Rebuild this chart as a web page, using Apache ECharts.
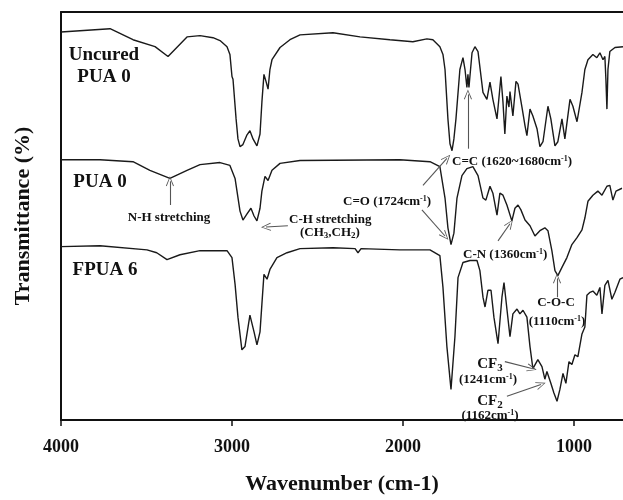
<!DOCTYPE html>
<html>
<head>
<meta charset="utf-8">
<script src="https://cdn.jsdelivr.net/npm/echarts@6/dist/echarts.min.js"></script>
<style>
html,body{margin:0;padding:0;background:#fff;}
#main{width:623px;height:500px;}
</style>
</head>
<body>
<div id="main"></div>
<script>
// wavenumber (cm-1) / transmittance (arb. %, curves offset)
var uncuredWn = [4000,3713,3579,3450,3374,3263,3187,3111,3070,3029,3012,3000,2994,2976,2965,2953,2936,2912,2895,2877,2854,2836,2825,2813,2801,2789,2778,2766,2719,2661,2602,2409,2251,2076,1942,1860,1825,1784,1766,1754,1737,1725,1713,1702,1690,1667,1649,1637,1626,1620,1614,1596,1579,1561,1532,1509,1491,1474,1450,1427,1415,1404,1392,1380,1374,1357,1339,1327,1304,1286,1275,1257,1240,1216,1199,1181,1152,1135,1111,1094,1070,1053,1023,1006,982,953,936,918,889,866,848,830,819,813,807,801,790,760,713];
var uncuredT = [95.1,95.9,93.2,91.5,89.1,93.9,94.2,93.7,93.0,91.5,89.6,84.2,83.5,73.8,68.9,67.0,67.5,69.9,70.9,68.9,67.2,70.1,77.9,84.7,83.0,81.1,85.9,88.3,91.3,93.2,94.4,94.9,93.9,93.2,92.7,93.4,93.2,91.5,89.6,85.9,73.8,67.7,66.0,68.9,73.8,85.9,88.8,85.9,81.5,84.7,81.5,90.0,91.5,90.3,80.3,78.6,82.8,78.6,73.8,84.2,77.9,70.1,79.4,76.7,80.5,74.5,83.0,82.3,76.7,72.1,69.7,76.2,74.5,71.4,67.0,68.2,76.9,73.8,67.2,68.2,73.8,68.9,78.6,76.9,73.1,80.3,85.9,88.3,89.6,88.8,90.0,88.3,89.1,83.5,76.2,85.9,90.3,91.3,91.5];

var pua0Wn = [4000,3772,3579,3480,3363,3263,3187,3070,3012,2982,2953,2936,2912,2889,2871,2854,2836,2825,2807,2789,2766,2719,2602,2018,1842,1784,1754,1737,1719,1702,1684,1655,1626,1591,1561,1532,1515,1491,1474,1450,1433,1415,1392,1363,1345,1327,1310,1286,1257,1228,1199,1170,1152,1129,1111,1094,1070,1041,1012,982,953,936,918,889,860,836,807,790,772,754,719];
var pua0T = [63.8,63.8,63.3,61.2,59.2,61.2,62.6,63.1,62.4,59.2,51.2,49.0,50.5,51.9,50.0,48.8,51.9,56.1,59.7,58.7,61.2,62.9,63.6,63.8,63.3,62.1,54.4,47.1,43.0,45.8,54.4,59.9,61.6,62.1,59.9,54.4,53.9,57.3,55.6,50.2,55.6,55.1,52.7,48.8,51.9,52.7,51.5,49.0,47.6,45.1,46.4,47.1,46.4,41.5,36.6,35.4,37.4,39.8,43.0,44.7,46.6,49.5,53.6,55.1,56.1,55.1,57.3,57.5,53.9,56.1,56.8];

var fpuaWn = [4000,3772,3497,3440,3380,3304,3187,3029,3000,2982,2965,2942,2924,2895,2871,2854,2836,2825,2813,2795,2778,2737,2678,2602,2409,2280,2263,2245,2018,1842,1784,1766,1743,1719,1696,1678,1649,1608,1567,1550,1532,1520,1503,1485,1468,1444,1421,1409,1392,1374,1357,1333,1316,1298,1275,1257,1240,1211,1187,1170,1158,1135,1117,1099,1082,1064,1047,1029,1012,994,977,953,936,924,906,889,866,848,836,819,801,778,760,731,713];
var fpuaT = [42.5,42.7,41.7,41.0,39.3,40.5,41.5,41.5,39.8,33.3,25.2,17.2,18.0,25.7,21.6,18.4,21.6,28.4,35.7,34.5,36.9,39.8,41.0,42.0,42.2,42.0,41.0,42.0,41.7,41.7,40.3,32.5,18.0,7.5,20.4,34.9,38.6,39.1,39.1,36.6,30.1,27.7,31.8,31.8,25.2,18.7,30.1,33.7,27.2,20.4,26.0,27.2,26.0,26.9,25.2,18.0,12.6,14.8,13.1,10.0,11.9,9.0,6.6,4.6,7.5,11.4,9.0,14.3,13.6,16.0,15.5,21.1,22.8,30.6,31.3,31.6,30.6,32.5,26.0,33.0,34.2,29.6,31.3,34.5,34.9];

var xTicks = [4000, 3000, 2000, 1000];

// annotation arrows [fromWn, fromT, toWn, toT]
var arrows = [
	[3363, 52.7, 3363, 58.5],   // N-H
	[2673, 47.6, 2801, 47.3],   // C-H
	[1883, 57.5, 1743, 64.1],   // C=O -> uncured
	[1889, 51.5, 1754, 45.1],   // C=O -> PUA 0
	[1620, 66.5, 1620, 79.8],   // C=C
	[1444, 43.9, 1374, 48.1],   // C-N
	[1099, 30.1, 1099, 34.7],   // C-O-C
	[1404, 14.3, 1246, 12.6],   // CF3
	[1392, 5.8, 1193, 8.7]      // CF2
];

function zip(a, b) {
	var out = [];
	for (var i = 0; i < a.length; i++) out.push([a[i], b[i]]);
	return out;
}

var serif = 'Liberation Serif';
var lineColor = '#1a1a1a';
// open "V" arrow head, tip at top
var openArrow = 'path://M5,0 L10,12 L9,12.6 L5,2.2 L1,12.6 L0,12 Z';

var rich = {
	n: {fontFamily: serif, fontWeight: 'bold', fontSize: 13, lineHeight: 15, color: '#111'},
	big: {fontFamily: serif, fontWeight: 'bold', fontSize: 15, lineHeight: 18, color: '#111'},
	sup: {fontFamily: serif, fontWeight: 'bold', fontSize: 8, lineHeight: 15, verticalAlign: 'top', color: '#111'},
	sub: {fontFamily: serif, fontWeight: 'bold', fontSize: 9, lineHeight: 15, verticalAlign: 'bottom', color: '#111'},
	bigsub: {fontFamily: serif, fontWeight: 'bold', fontSize: 11, lineHeight: 20, verticalAlign: 'bottom', color: '#111'}
};

function label(text, x, y, align, size) {
	var st = {
		text: text, align: align || 'left', verticalAlign: 'middle',
		fontFamily: serif, fontWeight: 'bold', fontSize: size || 13, fill: '#111'
	};
	if (text.indexOf('{') >= 0) st.rich = rich;
	return {type: 'text', x: x, y: y, silent: true, style: st};
}

var chart = echarts.init(document.getElementById('main'));

var markArrows = arrows.map(function (a) {
	return [{coord: [a[0], a[1]]}, {coord: [a[2], a[3]]}];
});

chart.setOption({
	animation: false,
	backgroundColor: '#fff',
	grid: {left: 61, top: 12, right: 0, bottom: 76},
	xAxis: [{
		type: 'value', min: 713, max: 4000, inverse: true,
		name: 'Wavenumber (cm-1)', nameLocation: 'middle', nameGap: 53,
		nameTextStyle: {fontFamily: serif, fontWeight: 'bold', fontSize: 22, color: '#111'},
		axisLine: {show: true, lineStyle: {color: '#111', width: 2}},
		axisTick: {show: true, length: 6, inside: false, customValues: xTicks, lineStyle: {color: '#111', width: 1.5}},
		axisLabel: {
			customValues: xTicks, margin: 18, fontFamily: serif, fontWeight: 'bold', fontSize: 18, color: '#111',
			formatter: function (v) { return String(v); }
		},
		splitLine: {show: false}
	}, {
		type: 'value', min: 713, max: 4000, inverse: true, position: 'top',
		axisLine: {show: true, lineStyle: {color: '#111', width: 2}},
		axisTick: {show: false}, axisLabel: {show: false}, splitLine: {show: false}
	}],
	yAxis: {
		type: 'value', min: 0, max: 100,
		name: 'Transmittance (%)', nameLocation: 'middle', nameGap: 27, nameRotate: 90,
		nameTextStyle: {fontFamily: serif, fontWeight: 'bold', fontSize: 22, color: '#111'},
		axisLine: {show: true, lineStyle: {color: '#111', width: 2}},
		axisTick: {show: false}, axisLabel: {show: false}, splitLine: {show: false}
	},
	series: [{
		name: 'Uncured PUA 0', type: 'line', showSymbol: false, symbol: 'none',
		data: zip(uncuredWn, uncuredT),
		lineStyle: {color: lineColor, width: 1.4},
		markLine: {
			silent: true, symbol: ['none', openArrow], symbolSize: [8, 10],
			label: {show: false},
			itemStyle: {color: '#555'},
			lineStyle: {color: '#555', width: 1.1, type: 'solid'},
			data: markArrows
		}
	}, {
		name: 'PUA 0', type: 'line', showSymbol: false, symbol: 'none',
		data: zip(pua0Wn, pua0T),
		lineStyle: {color: lineColor, width: 1.4}
	}, {
		name: 'FPUA 6', type: 'line', showSymbol: false, symbol: 'none',
		data: zip(fpuaWn, fpuaT),
		lineStyle: {color: lineColor, width: 1.4}
	}],
	graphic: [
		label('Uncured', 104, 55, 'center', 19),
		label('PUA 0', 104, 77, 'center', 19),
		label('PUA 0', 100, 182, 'center', 19),
		label('FPUA 6', 105, 270, 'center', 19),
		label('N-H stretching', 169, 218, 'center'),
		label('C-H stretching', 289, 220),
		label('{n|(CH}{sub|3}{n|,CH}{sub|2}{n|)}', 300, 233),
		label('{n|C=O (1724cm}{sup|-1}{n|)}', 343, 202),
		label('{n|C=C (1620~1680cm}{sup|-1}{n|)}', 452, 162),
		label('{n|C-N (1360cm}{sup|-1}{n|)}', 463, 255),
		label('C-O-C', 556, 303, 'center'),
		label('{n|(1110cm}{sup|-1}{n|)}', 557, 322, 'center'),
		label('{big|CF}{bigsub|3}', 490, 364, 'center'),
		label('{n|(1241cm}{sup|-1}{n|)}', 488, 380, 'center'),
		label('{big|CF}{bigsub|2}', 490, 401, 'center'),
		label('{n|(1162cm}{sup|-1}{n|)}', 490, 416, 'center')
	]
});
</script>
</body>
</html>
